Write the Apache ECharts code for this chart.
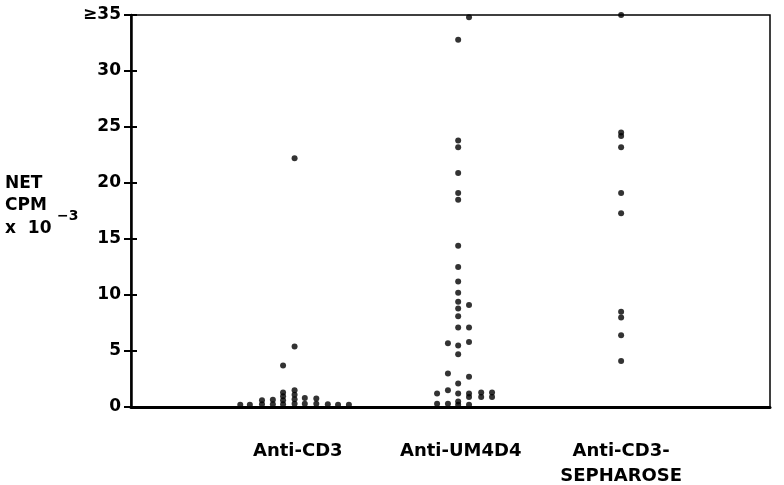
<!DOCTYPE html>
<html>
<head>
<meta charset="utf-8">
<script src="https://cdn.jsdelivr.net/npm/echarts@6/dist/echarts.min.js"></script>
<style>html,body{margin:0;padding:0;background:#fff;}#c{width:784px;height:485px;}</style>
</head>
<body>
<div id="c"></div>
<script>
// Category labels and their horizontal positions (x-axis units 0..100)
const categories = ['Anti-CD3', 'Anti-UM4D4', 'Anti-CD3-\nSEPHAROSE'];
const categoryPos = [26.1, 51.6, 76.7];
// y-axis ticks
const yTicks = [0, 5, 10, 15, 20, 25, 30, 35];

// Anti-CD3: x position (jitter within column) and NET CPM x 10^-3
const cd3X = [17.1, 18.6, 20.5, 20.5, 22.2, 22.2, 23.8, 23.8, 23.8, 23.8, 23.8, 25.6, 25.6, 25.6, 25.6, 25.6, 25.6, 27.2, 27.2, 29.0, 29.0, 30.8, 32.4, 34.1];
const cd3Y = [0.2, 0.2, 0.25, 0.6, 0.25, 0.65, 0.25, 0.6, 0.95, 1.3, 3.7, 0.3, 0.7, 1.1, 1.5, 5.4, 22.2, 0.3, 0.8, 0.3, 0.75, 0.25, 0.2, 0.2];

// Anti-UM4D4
const um4d4X = [52.9, 51.2, 51.2, 51.2, 51.2, 51.2, 51.2, 51.2, 51.2, 51.2, 51.2, 51.2, 52.9, 51.2, 51.2, 51.2, 52.9, 49.6, 51.2, 52.9, 51.2, 49.6, 52.9, 51.2, 47.9, 49.6, 51.2, 52.9, 52.9, 54.8, 54.8, 56.5, 56.5, 47.9, 49.6, 51.2, 51.2, 52.9];
const um4d4Y = [34.8, 32.8, 23.8, 23.2, 20.9, 19.1, 18.5, 14.4, 12.5, 11.2, 10.2, 9.4, 9.1, 8.8, 8.1, 7.1, 7.1, 5.7, 5.5, 5.8, 4.7, 3.0, 2.7, 2.1, 1.2, 1.5, 1.2, 1.2, 0.9, 1.3, 0.9, 1.3, 0.9, 0.3, 0.3, 0.5, 0.2, 0.2];

// Anti-CD3-Sepharose
const sephX = [76.7, 76.7, 76.7, 76.7, 76.7, 76.7, 76.7, 76.7, 76.7, 76.7];
const sephY = [35, 24.5, 24.2, 23.2, 19.1, 17.3, 8.5, 8.0, 6.4, 4.1];

const zip = (xs, ys) => xs.map((x, i) => [x, ys[i]]);

const FONT = '"DejaVu Sans", "Liberation Sans", sans-serif';
const chart = echarts.init(document.getElementById('c'), null, {renderer: 'canvas'});

const dotSeries = (name, xs, ys) => ({
  name, type: 'scatter', data: zip(xs, ys), symbol: 'circle', symbolSize: 6,
  itemStyle: {color: '#000'}, clip: false, silent: true
});

chart.setOption({
  animation: false,
  backgroundColor: '#fff',
  grid: {left: 131, right: 14, top: 15, bottom: 78, containLabel: false, outerBoundsMode: 'none',
         show: true, borderColor: '#000', borderWidth: 1.5, backgroundColor: 'transparent'},
  xAxis: {
    type: 'value', min: 0, max: 100,
    splitLine: {show: false},
    axisLine: {show: true, onZero: false, lineStyle: {color: '#000', width: 3}},
    axisTick: {show: false},
    axisLabel: {
      show: true, customValues: categoryPos, margin: 32,
      formatter: (v) => { const i = categoryPos.findIndex(p => Math.abs(p - v) < 0.01); return i >= 0 ? categories[i] : ''; },
      fontFamily: FONT, fontWeight: 'bold', fontSize: 18, color: '#000', lineHeight: 25
    }
  },
  yAxis: [{
    type: 'value', min: 0, max: 35, interval: 5,
    splitLine: {show: false},
    axisLine: {show: true, lineStyle: {color: '#000', width: 2.5}},
    axisTick: {show: true, length: 7, lineStyle: {color: '#000', width: 2}},
    axisLabel: {
      margin: 10, fontFamily: FONT, fontWeight: 'bold', fontSize: 17, color: '#000',
      formatter: (v) => (v === yTicks[yTicks.length - 1] ? '≥' + v : String(v))
    }
  }, {
    type: 'value', min: 0, max: 35, interval: 5, position: 'left',
    splitLine: {show: false},
    axisLine: {show: false},
    axisTick: {show: true, inside: true, length: 6, lineStyle: {color: '#000', width: 2}},
    axisLabel: {show: false}
  }],
  graphic: [
    {type: 'text', left: 5, top: 172, style: {text: 'NET\nCPM\nx  10', fontFamily: FONT, fontWeight: 'bold', fontSize: 17, lineHeight: 22.5, fill: '#000'}},
    {type: 'text', left: 57, top: 209, style: {text: '−3', fontFamily: FONT, fontWeight: 'bold', fontSize: 14, fill: '#000'}}
  ],
  series: [
    dotSeries('Anti-CD3', cd3X, cd3Y),
    dotSeries('Anti-UM4D4', um4d4X, um4d4Y),
    dotSeries('Anti-CD3-SEPHAROSE', sephX, sephY)
  ]
});
</script>
</body>
</html>
